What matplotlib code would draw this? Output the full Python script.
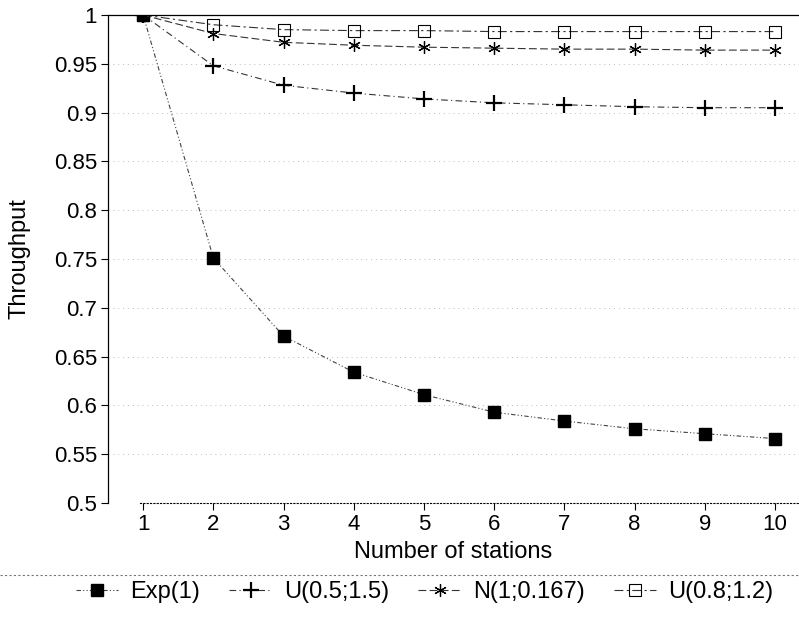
import matplotlib
matplotlib.use("Agg")
import matplotlib.pyplot as plt
from matplotlib.lines import Line2D

plt.rcParams["font.family"] = ["Liberation Sans", "DejaVu Sans"]

stations = [1, 2, 3, 4, 5, 6, 7, 8, 9, 10]
exp1 = [1.0, 0.751, 0.671, 0.634, 0.611, 0.593, 0.584, 0.576, 0.571, 0.566]
u05 = [1.0, 0.948, 0.928, 0.920, 0.914, 0.910, 0.908, 0.906, 0.905, 0.905]
n1 = [1.0, 0.981, 0.972, 0.969, 0.967, 0.966, 0.965, 0.965, 0.964, 0.964]
u08 = [1.0, 0.990, 0.985, 0.984, 0.984, 0.983, 0.983, 0.983, 0.983, 0.983]
yticks = [0.5, 0.55, 0.6, 0.65, 0.7, 0.75, 0.8, 0.85, 0.9, 0.95, 1]
ytick_labels = ["0.5", "0.55", "0.6", "0.65", "0.7", "0.75", "0.8", "0.85",
                "0.9", "0.95", "1"]

fig = plt.figure(figsize=(7.99, 6.19), dpi=100)
ax = fig.add_axes([0.1352, 0.1874, 0.8648, 0.7884])

ax.plot(stations, exp1, color="#444444", lw=0.8, ls=(0, (4, 2, 1, 2, 1, 2)),
        marker="s", ms=8.5, mfc="black", mec="black", label="Exp(1)")
ax.plot(stations, u05, color="#333333", lw=0.8, ls=(0, (6, 3, 1, 3)),
        marker="+", ms=11, mew=1.6, mec="black", label="U(0.5;1.5)")
ax.plot(stations, n1, color="#333333", lw=0.8, ls=(0, (7, 3)),
        marker=(6, 2, 0), ms=9, mew=0.9, mec="black", label="N(1;0.167)")
ax.plot(stations, u08, color="#333333", lw=0.8, ls=(0, (8, 3, 2, 3)),
        marker="s", ms=8, mfc="none", mec="black", mew=0.8,
        label="U(0.8;1.2)")

ax.set_xlim(0.5, 10.34)
ax.set_ylim(0.5, 1.0)
ax.set_xticks(stations)
ax.set_yticks(yticks)
ax.set_yticklabels(ytick_labels)
ax.tick_params(labelsize=16, direction="out", length=5, width=0.8, pad=3)
ax.set_xlabel("Number of stations", fontsize=17)
ax.set_ylabel("Throughput", fontsize=17)
ax.xaxis.set_label_coords(0.5, -0.078)
ax.yaxis.set_label_coords(-0.112, 0.5)

ax.yaxis.grid(True, color="#bbbbbb", ls=(0, (1, 4)), lw=0.7)
ax.spines["right"].set_visible(False)
ax.spines["top"].set_linewidth(0.9)
ax.spines["left"].set_linewidth(0.9)
ax.spines["bottom"].set_linestyle((0, (1, 2)))
ax.spines["bottom"].set_linewidth(0.8)
ax.spines["bottom"].set_bounds(0.95, 10.34)

# dotted rule above the legend row
fig.add_artist(Line2D([0.0, 1.0], [1 - 575 / 619, 1 - 575 / 619],
                      transform=fig.transFigure, color="#777777",
                      lw=0.8, ls=(0, (2, 2))))

leg = fig.legend(loc="center left", bbox_to_anchor=(0.08, 1 - 592 / 619),
                 ncol=4, fontsize=17, frameon=False, handlelength=1.8,
                 handletextpad=0.5, columnspacing=1.25, borderpad=0.0)

fig.savefig("out.png", dpi=100)
